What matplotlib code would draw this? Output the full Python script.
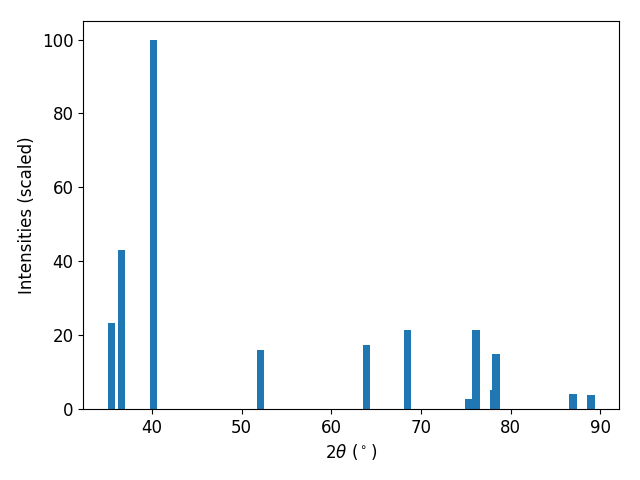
import matplotlib
matplotlib.use('Agg')
import matplotlib.pyplot as plt

# Peak positions (2theta, degrees) and scaled intensities
two_theta = [35.47, 36.58, 40.17, 52.08, 63.94, 68.50, 75.36, 76.14, 78.14, 78.36, 86.94, 88.94]
intensity = [23.4, 42.9, 100.0, 16.0, 17.3, 21.4, 2.7, 21.4, 5.1, 14.9, 4.1, 3.8]

fig, ax = plt.subplots(figsize=(6.4, 4.8))
ax.bar(two_theta, intensity, color='#1f77b4')

ax.set_xlabel(r'2$\theta$ ($^\circ$)', fontsize=12)
ax.set_ylabel('Intensities (scaled)', fontsize=12)
ax.tick_params(labelsize=12)

fig.subplots_adjust(left=0.130, right=0.967, top=0.956, bottom=0.148)
plt.savefig('out.png', dpi=100)
